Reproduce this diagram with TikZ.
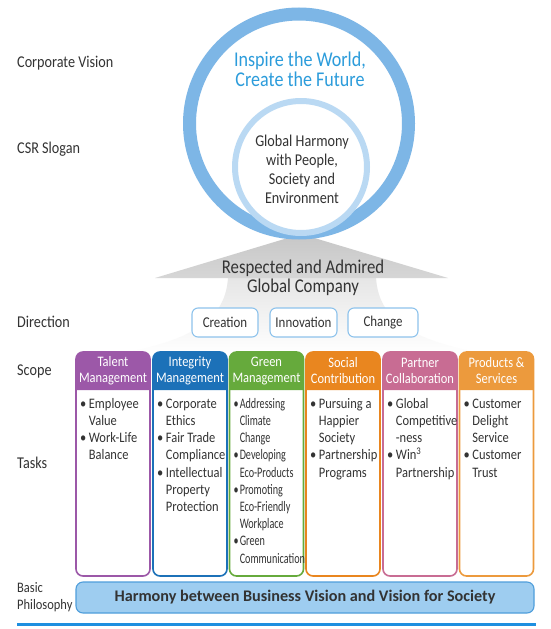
\documentclass[tikz,border=0pt]{standalone}
\usepackage{fontspec}
\setmainfont[FakeStretch=0.86]{Carlito}
\newfontfamily\condfont[FakeStretch=0.7]{Carlito}
\newfontfamily\barfont{Carlito}
\usepackage{array}
\definecolor{txt}{HTML}{333333}
\definecolor{ringA}{HTML}{7DB6E6}
\definecolor{ringB}{HTML}{BAD9F3}
\definecolor{inspire}{HTML}{2C9CDB}
\definecolor{dirbox}{HTML}{8EC3EC}
\definecolor{cTalent}{HTML}{9C58A8}
\definecolor{cInteg}{HTML}{1C71B8}
\definecolor{cGreen}{HTML}{66AA3C}
\definecolor{cSocial}{HTML}{E9861F}
\definecolor{cPartner}{HTML}{C86C93}
\definecolor{cProd}{HTML}{EC9A3D}
\definecolor{barfill}{HTML}{9ECDF0}
\definecolor{barline}{HTML}{4F9EDB}
\definecolor{rule}{HTML}{1E8FE0}
\newcommand\mycolumn[6]{%
  % #1 left x, #2 colour, #3 name, #4 header, #5 body, #6 bullet gap
  \fill[#2] (#1,390) -- (#1,359) arc[start angle=180,end angle=270,radius=7]
     -- ({#1+67},352) arc[start angle=270,end angle=360,radius=7] -- ({#1+74},390) -- cycle;
  \draw[#2, line width=1.6, rounded corners=7] (#1,352) rectangle ({#1+74},576);
  \node[hdr] (#3h) at ({#1+37},371) {#4};
  \node[bodytxt] (#3b) at ({#1+4},396) {\begin{tabular}{@{}l@{\hspace{#6}}l@{}}#5\end{tabular}};
}
\begin{document}
\begin{tikzpicture}[x=1pt,y=-1pt,
  lbl/.style={anchor=base west, text=txt, inner sep=0, font=\fontsize{16.5}{17}\selectfont},
  hdr/.style={text=white, align=center, inner sep=0, font=\fontsize{14.5}{16}\selectfont},
  bodytxt/.style={anchor=north west, inner sep=0, text=txt, font=\fontsize{14.5}{17.2}\selectfont},
  dirnode/.style={draw=dirbox, line width=1.1, rounded corners=6, fill=white, text=txt,
    minimum height=29, inner sep=0, font=\fontsize{15}{17}\selectfont}]
\useasboundingbox (0,0) rectangle (550,629);
\fill[white] (0,0) rectangle (550,629);

% labels
\node[lbl] (lv) at (17,67) {Corporate Vision};
\node[lbl] (ls) at (17,153) {CSR Slogan};
\node[lbl] (ld) at (17,327) {Direction};
\node[lbl] (lsc) at (17,375) {Scope};
\node[lbl] (lt) at (17,468) {Tasks};
\node[lbl, font=\fontsize{14.5}{17}\selectfont] (lb1) at (17,592) {Basic};
\node[lbl, font=\fontsize{14.5}{17}\selectfont] (lb2) at (17,609) {Philosophy};

% roof and pedestal
\shade[top color=black!10, bottom color=white] (228,277) .. controls (226,318) and (195,340) .. (118,354)
   -- (486,354) .. controls (409,340) and (378,318) .. (376,277) -- cycle;
\shade[top color=black!22, bottom color=black!16] (301,234) -- (448,278) -- (155,278) -- cycle;

% circles
\draw[ringA, line width=13, fill=white] (299,123.5) circle[radius=109.5];
\draw[ringB, line width=6, fill=white] (301,167) circle[radius=66];
\node[text=inspire, align=center, font=\fontsize{21}{20}\selectfont] (vision) at (300,69) {Inspire the World,\\Create the Future};
\node[text=txt, align=center, font=\fontsize{16.5}{19}\selectfont] (slogan) at (302,169.5) {Global Harmony\\with People,\\Society and\\Environment};

\node[text=txt, align=center, font=\fontsize{19.5}{19}\selectfont] (goal) at (303,278) {Respected and Admired\\Global Company};

% direction
\node[dirnode, minimum width=66] (creation) at (225,322.5) {Creation};
\node[dirnode, minimum width=67] (innovation) at (303.5,322.5) {Innovation};
\node[dirnode, minimum width=70] (change) at (383,322.5) {Change};

% columns
\mycolumn{76}{cTalent}{talent}{Talent\\Management}{%
  \textbullet & Employee\\ & Value\\ \textbullet & Work-Life\\ & Balance}{2.5pt}
\mycolumn{153}{cInteg}{integ}{Integrity\\Management}{%
  \textbullet & Corporate\\ & Ethics\\ \textbullet & Fair Trade\\ & Compliance\\
  \textbullet & Intellectual\\ & Property\\ & Protection}{2.5pt}
\mycolumn{229.5}{cGreen}{green}{Green\\Management}{%
  \condfont\textbullet & \condfont Addressing\\ & \condfont Climate\\ & \condfont Change\\
  \condfont\textbullet & \condfont Developing\\ & \condfont Eco-Products\\
  \condfont\textbullet & \condfont Promoting\\ & \condfont Eco-Friendly\\ & \condfont Workplace\\
  \condfont\textbullet & \condfont Green\\ & \condfont Communication}{1pt}
\mycolumn{306}{cSocial}{social}{Social\\Contribution}{%
  \textbullet & Pursuing a\\ & Happier\\ & Society\\ \textbullet & Partnership\\ & Programs}{2.5pt}
\mycolumn{383}{cPartner}{partner}{Partner\\Collaboration}{%
  \textbullet & Global\\ & Competitive\\ & -ness\\ \textbullet & Win\textsuperscript{3}\\ & Partnership}{2.5pt}
\mycolumn{459.5}{cProd}{prod}{Products \&\\Services}{%
  \textbullet & Customer\\ & Delight\\ & Service\\ \textbullet & Customer\\ & Trust}{2.5pt}

% basic philosophy bar
\node[draw=barline, fill=barfill, line width=1.1, rounded corners=7, minimum width=458, minimum height=31,
  inner sep=0, text=txt, font=\barfont\bfseries\fontsize{16.2}{17}\selectfont] (bar) at (305,597.5)
  {Harmony between Business Vision and Vision for Society};
\coordinate (ruleL) at (17,624.5);
\coordinate (ruleR) at (536,624.5);
\draw[rule, line width=3] (ruleL) -- (ruleR);
\end{tikzpicture}
\end{document}
